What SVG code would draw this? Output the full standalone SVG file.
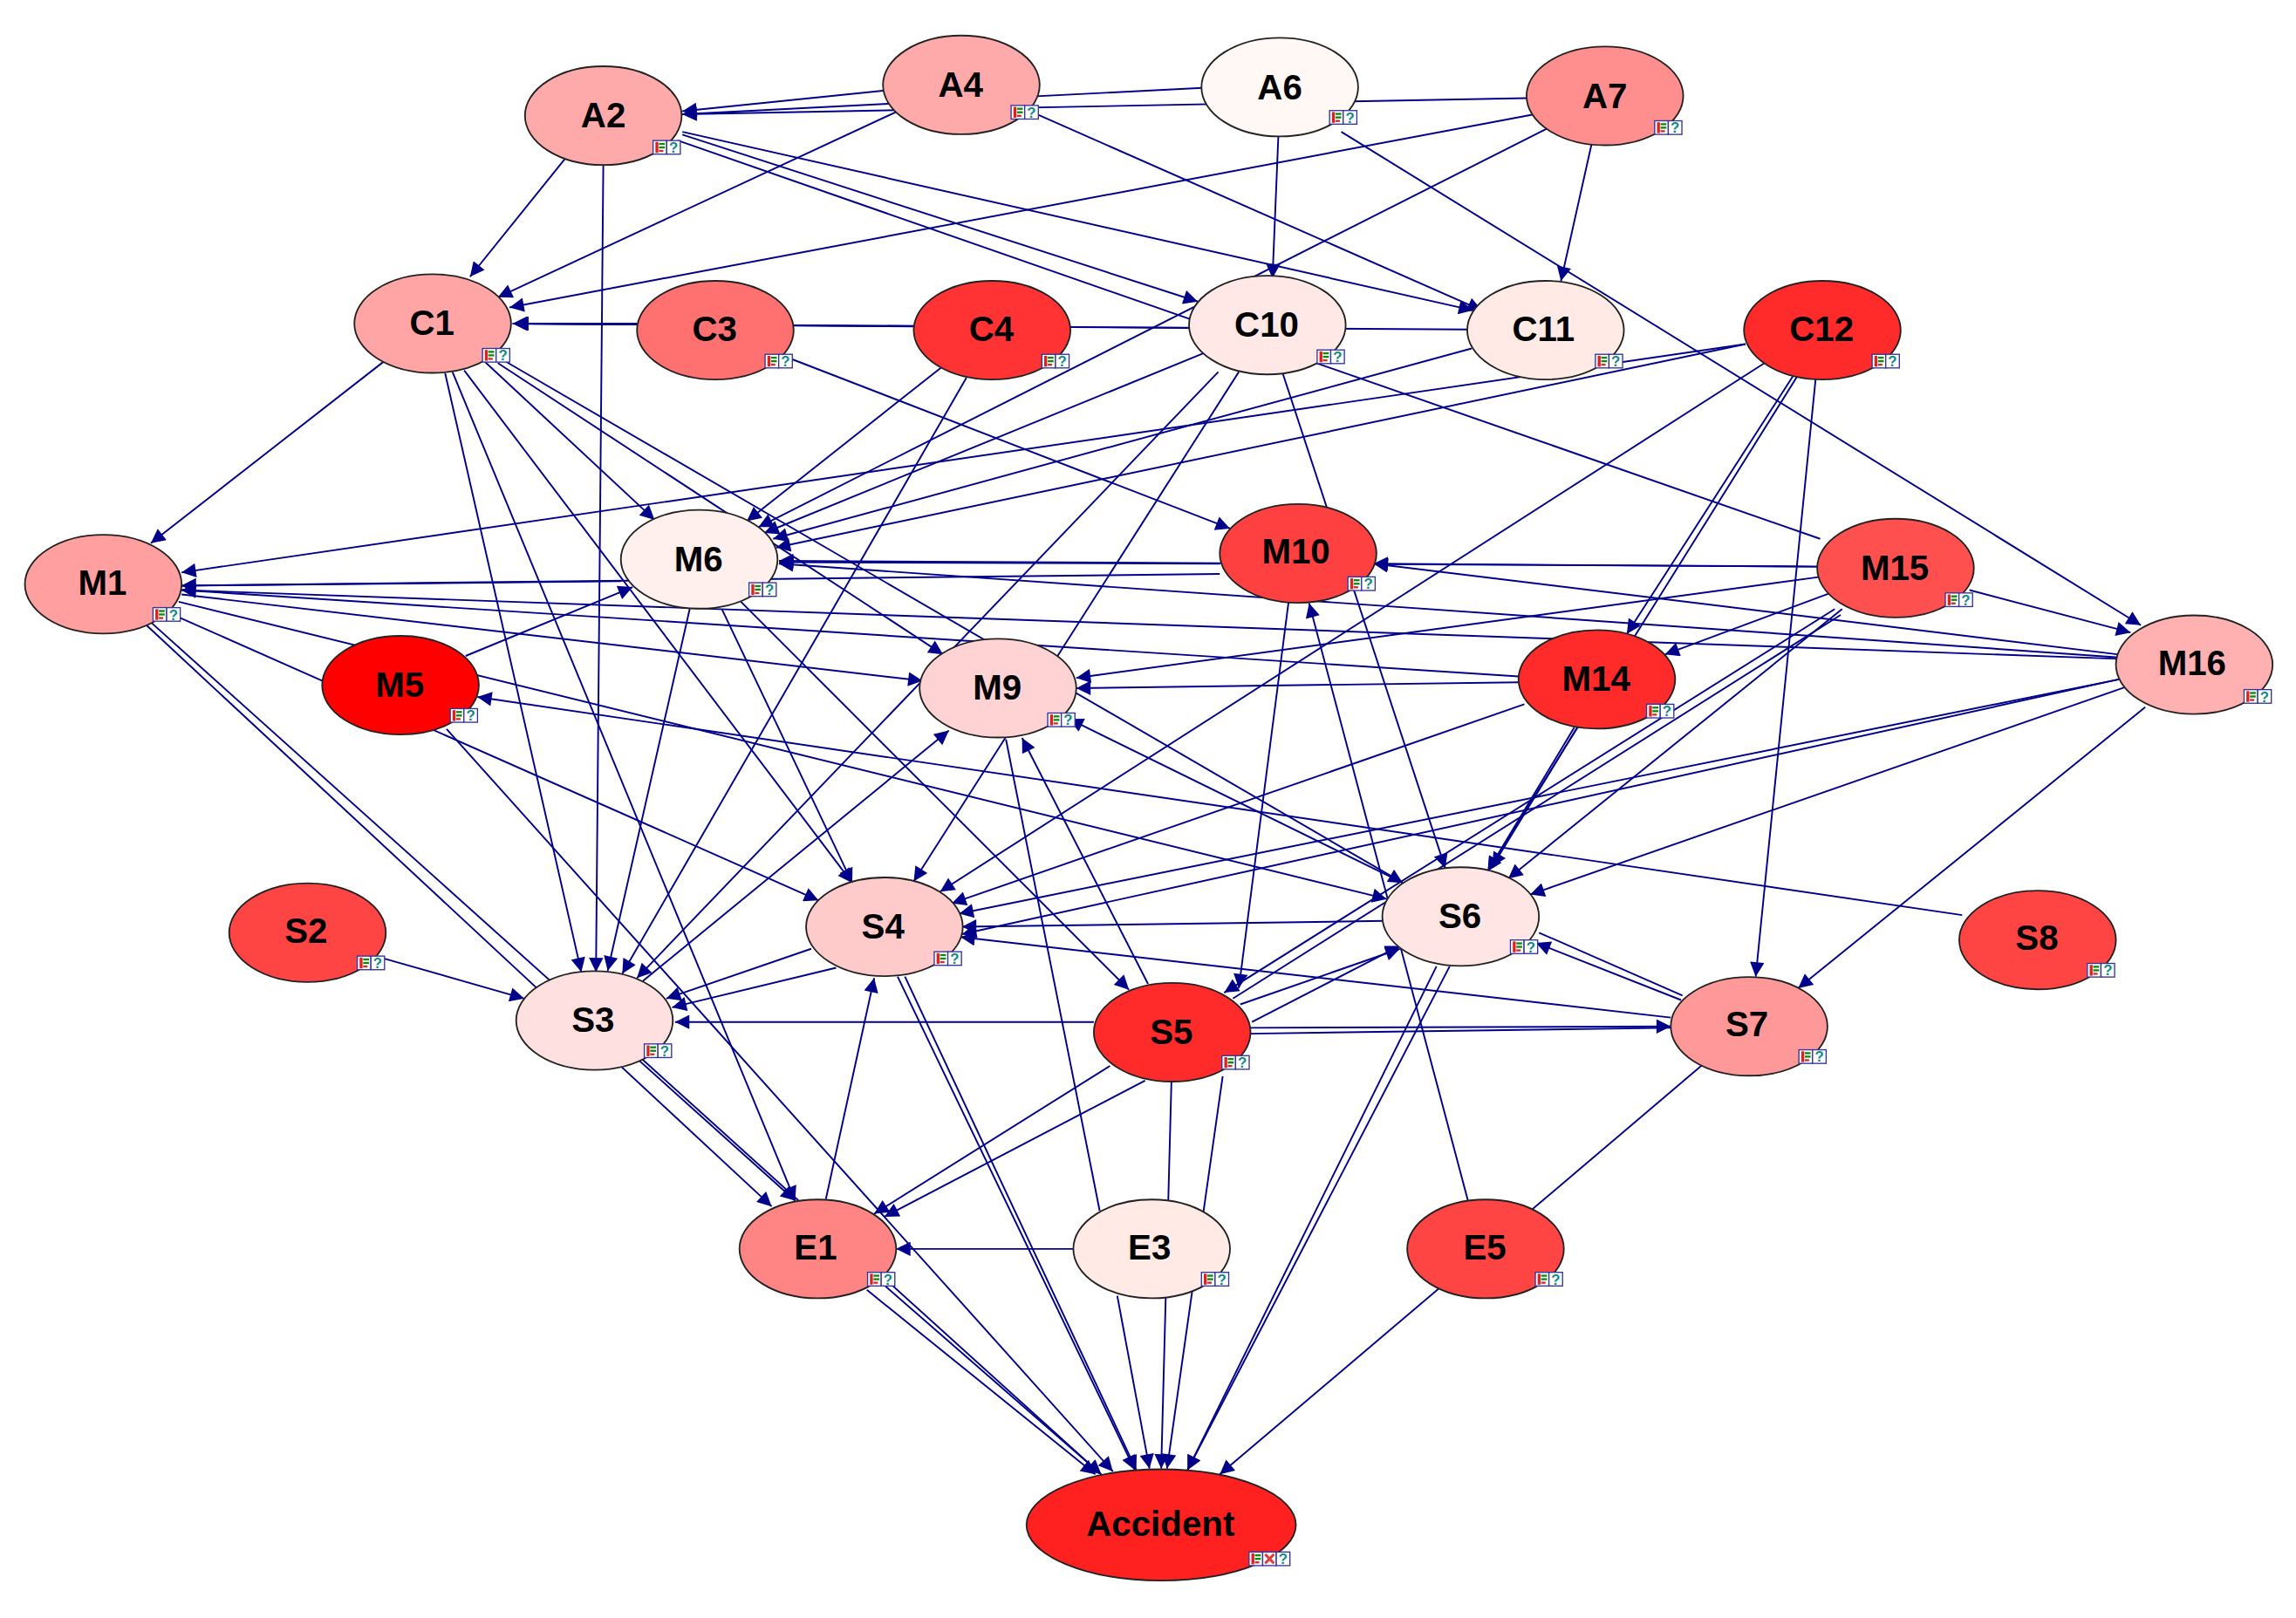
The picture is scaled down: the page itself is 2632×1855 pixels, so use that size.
<svg xmlns="http://www.w3.org/2000/svg" width="2632" height="1855" viewBox="0 0 2632 1855">
<style>
.e{stroke:#00008b;stroke-width:1.15;fill:none}
.a{marker-end:url(#ah)}
.n{stroke:#222;stroke-width:1.1}
.t{font-family:"Liberation Sans",Arial,sans-serif;font-weight:700;font-size:24px;text-anchor:middle;fill:#000}
.q{font-family:"Liberation Sans",Arial,sans-serif;font-weight:700;font-size:10px;text-anchor:middle;fill:#128a8a}
.b{fill:#fff;stroke:#33339a;stroke-width:.8}
</style>
<defs>
<marker id="ah" viewBox="0 0 10 10" refX="10" refY="5" markerWidth="9.5" markerHeight="8.5" orient="auto"><path d="M0,0L10,5L0,10z" fill="#00008b"/></marker>
<g id="icon">
<rect class="b" x="0" y="0" width="9.3" height="9.3"/><rect x="1.6" y="1" width="2" height="7.4" fill="#e02020"/><rect x="4" y="1.6" width="4" height="1.4" fill="#118811"/><rect x="4" y="4" width="4" height="1.4" fill="#118811"/><rect x="4" y="6.4" width="3" height="1.4" fill="#c83030"/>
<rect class="b" x="9.3" y="0" width="9.3" height="9.3"/><text class="q" x="13.95" y="8.3">?</text>
</g>
<g id="icon3">
<rect class="b" x="0" y="0" width="9.3" height="9.3"/><rect x="1.6" y="1" width="2" height="7.4" fill="#e02020"/><rect x="4" y="1.6" width="4" height="1.4" fill="#118811"/><rect x="4" y="4" width="4" height="1.4" fill="#118811"/><rect x="4" y="6.4" width="3" height="1.4" fill="#c83030"/>
<rect class="b" x="9.3" y="0" width="9.3" height="9.3"/><path d="M11,1.5L17,7.8M17,1.5L11,7.8" stroke="#e04040" stroke-width="1.8"/>
<rect class="b" x="18.6" y="0" width="9.3" height="9.3"/><text class="q" x="23.25" y="8.3">?</text>
</g>
</defs>
<g transform="scale(1.6786)">
<g id="connectors">
<line class="e a" x1="603" y1="62" x2="466" y2="76"/>
<line class="e a" x1="821" y1="60" x2="466" y2="78"/>
<line class="e a" x1="1043" y1="67" x2="466" y2="78"/>
<line class="e a" x1="387" y1="107" x2="321" y2="189"/>
<line class="e a" x1="412" y1="113" x2="407" y2="664"/>
<line class="e a" x1="466" y1="92" x2="818" y2="206"/>
<line class="e" x1="463" y1="96" x2="1243" y2="368"/>
<line class="e a" x1="466" y1="90" x2="1006" y2="212"/>
<line class="e a" x1="613" y1="76" x2="340" y2="203"/>
<line class="e a" x1="708" y1="78" x2="1012" y2="212"/>
<line class="e a" x1="873" y1="93" x2="869" y2="190"/>
<line class="e a" x1="916" y1="90" x2="1462" y2="427"/>
<line class="e a" x1="1048" y1="78" x2="348" y2="210"/>
<line class="e a" x1="1058" y1="87" x2="518" y2="360"/>
<line class="e a" x1="1087" y1="98" x2="1066" y2="192"/>
<line class="e a" x1="435" y1="221" x2="350" y2="221"/>
<line class="e a" x1="625" y1="223" x2="351" y2="221"/>
<line class="e a" x1="813" y1="224" x2="351" y2="221"/>
<line class="e a" x1="1003" y1="225" x2="351" y2="221"/>
<line class="e a" x1="262" y1="247" x2="103" y2="371"/>
<line class="e a" x1="330" y1="246" x2="447" y2="355"/>
<line class="e a" x1="340" y1="248" x2="644" y2="447"/>
<line class="e a" x1="342" y1="245" x2="958" y2="603"/>
<line class="e a" x1="317" y1="253" x2="582" y2="603"/>
<line class="e a" x1="304" y1="255" x2="397" y2="664"/>
<line class="e a" x1="309" y1="254" x2="543" y2="820"/>
<line class="e a" x1="540" y1="245" x2="840" y2="361"/>
<line class="e a" x1="644" y1="250" x2="510" y2="356"/>
<line class="e a" x1="660" y1="258" x2="425" y2="665"/>
<line class="e a" x1="825" y1="240" x2="522" y2="364"/>
<line class="e a" x1="832" y1="254" x2="435" y2="668"/>
<line class="e a" x1="846" y1="254" x2="624" y2="602"/>
<line class="e a" x1="876" y1="255" x2="987" y2="593"/>
<line class="e a" x1="1005" y1="238" x2="528" y2="368"/>
<line class="e a" x1="1192" y1="235" x2="530" y2="374"/>
<line class="e a" x1="1192" y1="235" x2="124" y2="391"/>
<line class="e a" x1="1205" y1="248" x2="642" y2="609"/>
<line class="e a" x1="1225" y1="256" x2="1111" y2="433"/>
<line class="e a" x1="1228" y1="256" x2="1016" y2="595"/>
<line class="e a" x1="1240" y1="258" x2="1199" y2="667"/>
<line class="e a" x1="424" y1="397" x2="124" y2="400"/>
<line class="e a" x1="833" y1="392" x2="124" y2="400"/>
<line class="e a" x1="833" y1="385" x2="532" y2="384"/>
<line class="e a" x1="1241" y1="387" x2="532" y2="383"/>
<line class="e a" x1="1447" y1="449" x2="532" y2="385"/>
<line class="e a" x1="1447" y1="450" x2="124" y2="403"/>
<line class="e a" x1="1037" y1="462" x2="124" y2="403"/>
<line class="e a" x1="124" y1="406" x2="630" y2="465"/>
<line class="e a" x1="122" y1="411" x2="947" y2="614"/>
<line class="e a" x1="123" y1="422" x2="559" y2="615"/>
<line class="e a" x1="100" y1="427" x2="527" y2="824"/>
<line class="e a" x1="103" y1="425" x2="543" y2="820"/>
<line class="e a" x1="437" y1="722" x2="752" y2="1007"/>
<line class="e a" x1="318" y1="448" x2="432" y2="401"/>
<line class="e a" x1="305" y1="498" x2="760" y2="1005"/>
<line class="e a" x1="1340" y1="625" x2="326" y2="476"/>
<line class="e a" x1="260" y1="654" x2="358" y2="682"/>
<line class="e a" x1="471" y1="416" x2="415" y2="663"/>
<line class="e a" x1="493" y1="416" x2="582" y2="603"/>
<line class="e a" x1="506" y1="411" x2="771" y2="676"/>
<line class="e a" x1="439" y1="670" x2="648" y2="499"/>
<line class="e a" x1="958" y1="603" x2="730" y2="491"/>
<line class="e a" x1="1037" y1="466" x2="735" y2="470"/>
<line class="e a" x1="1243" y1="394" x2="735" y2="463"/>
<line class="e a" x1="1241" y1="387" x2="938" y2="385"/>
<line class="e a" x1="1447" y1="447" x2="938" y2="385"/>
<line class="e a" x1="1250" y1="405" x2="1137" y2="447"/>
<line class="e a" x1="1345" y1="403" x2="1455" y2="432"/>
<line class="e a" x1="1253" y1="416" x2="836" y2="678"/>
<line class="e" x1="1257" y1="420" x2="842" y2="682"/>
<line class="e a" x1="1258" y1="416" x2="1030" y2="600"/>
<line class="e a" x1="1465" y1="483" x2="1228" y2="675"/>
<line class="e a" x1="1458" y1="467" x2="1045" y2="611"/>
<line class="e a" x1="1447" y1="464" x2="655" y2="624"/>
<line class="e a" x1="1447" y1="464" x2="657" y2="638"/>
<line class="e a" x1="1041" y1="481" x2="650" y2="617"/>
<line class="e a" x1="1075" y1="497" x2="1016" y2="595"/>
<line class="e a" x1="1077" y1="497" x2="1019" y2="592"/>
<line class="e a" x1="880" y1="411" x2="846" y2="675"/>
<line class="e a" x1="1003" y1="822" x2="894" y2="412"/>
<line class="e a" x1="847" y1="686" x2="956" y2="648"/>
<line class="e a" x1="855" y1="698" x2="956" y2="646"/>
<line class="e a" x1="945" y1="629" x2="657" y2="633"/>
<line class="e" x1="1051" y1="637" x2="1149" y2="680"/>
<line class="e a" x1="1148" y1="683" x2="1049" y2="644"/>
<line class="e a" x1="1141" y1="695" x2="656" y2="640"/>
<line class="e a" x1="747" y1="698" x2="461" y2="698"/>
<line class="e a" x1="853" y1="702" x2="1141" y2="701"/>
<line class="e" x1="853" y1="706" x2="1141" y2="702"/>
<line class="e a" x1="554" y1="648" x2="455" y2="682"/>
<line class="e a" x1="571" y1="661" x2="459" y2="688"/>
<line class="e a" x1="564" y1="819" x2="597" y2="668"/>
<line class="e a" x1="758" y1="728" x2="597" y2="829"/>
<line class="e a" x1="782" y1="738" x2="604" y2="831"/>
<line class="e a" x1="733" y1="853" x2="612" y2="853"/>
<line class="e" x1="751" y1="827" x2="687" y2="505"/>
<line class="e a" x1="784" y1="672" x2="698" y2="504"/>
<line class="e a" x1="763" y1="885" x2="785" y2="1003"/>
<line class="e a" x1="800" y1="738" x2="793" y2="1003"/>
<line class="e a" x1="835" y1="735" x2="797" y2="1003"/>
<line class="e a" x1="592" y1="881" x2="748" y2="1007"/>
<line class="e a" x1="603" y1="877" x2="752" y2="1007"/>
<line class="e a" x1="613" y1="667" x2="775" y2="1004"/>
<line class="e a" x1="618" y1="667" x2="776" y2="1004"/>
<line class="e a" x1="981" y1="660" x2="811" y2="1004"/>
<line class="e a" x1="990" y1="660" x2="811" y2="1004"/>
<line class="e a" x1="1163" y1="727" x2="833" y2="1007"/>
</g>
<g id="nA2"><ellipse class="n" cx="412" cy="79" rx="53.5" ry="33.7" fill="#ffaaaa"/><text class="t" x="412" y="87">A2</text><use href="#icon" x="446" y="96"/></g>
<g id="nA4"><ellipse class="n" cx="656.500" cy="58" rx="53.500" ry="33.700" fill="#ffaaaa"/><text class="t" x="656" y="66">A4</text><use href="#icon" x="690.500" y="72"/></g>
<g id="nA6"><ellipse class="n" cx="874" cy="59.500" rx="53.500" ry="33.700" fill="#fff8f5"/><text class="t" x="874" y="68">A6</text><use href="#icon" x="908" y="75.500"/></g>
<g id="nA7"><ellipse class="n" cx="1096" cy="65.500" rx="53.500" ry="33.700" fill="#ff8e8e"/><text class="t" x="1096" y="74">A7</text><use href="#icon" x="1130" y="82.500"/></g>
<g id="nC1"><ellipse class="n" cx="295.500" cy="221" rx="53.500" ry="33.700" fill="#ffa5a5"/><text class="t" x="295" y="229">C1</text><use href="#icon" x="329.500" y="238"/></g>
<g id="nC3"><ellipse class="n" cx="488.500" cy="225.500" rx="53.500" ry="33.700" fill="#ff7070"/><text class="t" x="488" y="233">C3</text><use href="#icon" x="522.500" y="242"/></g>
<g id="nC4"><ellipse class="n" cx="677.500" cy="225.500" rx="53.500" ry="33.700" fill="#ff3333"/><text class="t" x="677" y="233">C4</text><use href="#icon" x="711.500" y="242"/></g>
<g id="nC10"><ellipse class="n" cx="865.500" cy="222" rx="53.500" ry="33.700" fill="#ffe8e5"/><text class="t" x="865" y="230">C10</text><use href="#icon" x="899.500" y="239"/></g>
<g id="nC11"><ellipse class="n" cx="1055.500" cy="225.500" rx="53.500" ry="33.700" fill="#ffeae6"/><text class="t" x="1054" y="233">C11</text><use href="#icon" x="1089.500" y="242"/></g>
<g id="nC12"><ellipse class="n" cx="1244.500" cy="225.500" rx="53.500" ry="33.700" fill="#ff2b2b"/><text class="t" x="1244" y="233">C12</text><use href="#icon" x="1278.500" y="242"/></g>
<g id="nM1"><ellipse class="n" cx="70.500" cy="399" rx="53.500" ry="33.700" fill="#ff9f9f"/><text class="t" x="70" y="406">M1</text><use href="#icon" x="104.500" y="415"/></g>
<g id="nM6"><ellipse class="n" cx="477.500" cy="382" rx="53.500" ry="33.700" fill="#fff0ee"/><text class="t" x="477" y="390">M6</text><use href="#icon" x="511.500" y="398"/></g>
<g id="nM10"><ellipse class="n" cx="886.500" cy="378" rx="53.500" ry="33.700" fill="#ff4040"/><text class="t" x="885" y="385">M10</text><use href="#icon" x="920.500" y="394"/></g>
<g id="nM15"><ellipse class="n" cx="1294.500" cy="388" rx="53.500" ry="33.700" fill="#ff5050"/><text class="t" x="1294" y="396">M15</text><use href="#icon" x="1328.500" y="405"/></g>
<g id="nM16"><ellipse class="n" cx="1498.500" cy="454" rx="53.500" ry="33.700" fill="#ffb0b0"/><text class="t" x="1497" y="461">M16</text><use href="#icon" x="1532.500" y="471"/></g>
<g id="nM5"><ellipse class="n" cx="273.500" cy="468" rx="53.500" ry="33.700" fill="#ff0000"/><text class="t" x="273" y="476">M5</text><use href="#icon" x="307.500" y="484"/></g>
<g id="nM9"><ellipse class="n" cx="681.500" cy="470" rx="53.500" ry="33.700" fill="#ffd3d3"/><text class="t" x="681" y="478">M9</text><use href="#icon" x="715.500" y="487"/></g>
<g id="nM14"><ellipse class="n" cx="1090.500" cy="464" rx="53.500" ry="33.700" fill="#ff2b2b"/><text class="t" x="1090" y="472">M14</text><use href="#icon" x="1124.500" y="481"/></g>
<g id="nS2"><ellipse class="n" cx="210" cy="637" rx="53.500" ry="33.700" fill="#ff4444"/><text class="t" x="209" y="644">S2</text><use href="#icon" x="244" y="653"/></g>
<g id="nS4"><ellipse class="n" cx="604" cy="633" rx="53.500" ry="33.700" fill="#ffcaca"/><text class="t" x="603" y="641">S4</text><use href="#icon" x="638" y="650"/></g>
<g id="nS6"><ellipse class="n" cx="997.500" cy="626" rx="53.500" ry="33.700" fill="#ffe6e4"/><text class="t" x="997" y="634">S6</text><use href="#icon" x="1031.500" y="642"/></g>
<g id="nS8"><ellipse class="n" cx="1391.500" cy="642" rx="53.500" ry="33.700" fill="#ff4444"/><text class="t" x="1391" y="649">S8</text><use href="#icon" x="1425.500" y="658"/></g>
<g id="nS3"><ellipse class="n" cx="406" cy="697" rx="53.500" ry="33.700" fill="#ffe0e0"/><text class="t" x="405" y="705">S3</text><use href="#icon" x="440" y="713"/></g>
<g id="nS5"><ellipse class="n" cx="800.500" cy="705" rx="53.500" ry="33.700" fill="#ff2b2b"/><text class="t" x="800" y="713">S5</text><use href="#icon" x="834.500" y="721"/></g>
<g id="nS7"><ellipse class="n" cx="1194.500" cy="701" rx="53.500" ry="33.700" fill="#ff9898"/><text class="t" x="1193" y="708">S7</text><use href="#icon" x="1228.500" y="717"/></g>
<g id="nE1"><ellipse class="n" cx="558.500" cy="853" rx="53.500" ry="33.700" fill="#ff8585"/><text class="t" x="557" y="860">E1</text><use href="#icon" x="592.500" y="869"/></g>
<g id="nE3"><ellipse class="n" cx="786.500" cy="853" rx="53.500" ry="33.700" fill="#ffeae6"/><text class="t" x="785" y="860">E3</text><use href="#icon" x="820.500" y="869"/></g>
<g id="nE5"><ellipse class="n" cx="1014.500" cy="853" rx="53.500" ry="33.700" fill="#ff4444"/><text class="t" x="1014" y="860">E5</text><use href="#icon" x="1048.500" y="869"/></g>
<g id="nAccident"><ellipse class="n" cx="793" cy="1041.500" rx="92" ry="38" fill="#ff2020"/><text class="t" x="792.500" y="1049">Accident</text><use href="#icon3" x="853" y="1060"/></g>
</g>
</svg>
